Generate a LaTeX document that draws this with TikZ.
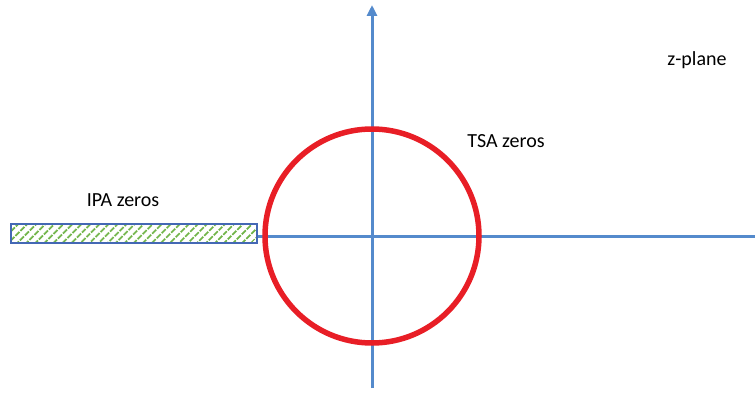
\documentclass[tikz,border=0pt]{standalone}
\usepackage{fontspec}
\setmainfont{Carlito}
\usetikzlibrary{patterns.meta,arrows.meta}
\definecolor{axisblue}{RGB}{84,138,204}
\definecolor{rectblue}{RGB}{68,104,180}
\definecolor{hatchgreen}{RGB}{112,180,72}
\definecolor{circred}{RGB}{232,30,38}
\tikzset{
  axis/.style={draw=axisblue, line width=3pt},
  lbl/.style={font=\fontsize{20}{24}\selectfont, inner sep=0pt},
}
\begin{document}
\begin{tikzpicture}[x=1pt,y=1pt]
\useasboundingbox (0,0) rectangle (755,392);
\coordinate (O) at (372,156);
\coordinate (ytop) at (372,387);
\coordinate (ybot) at (372,4);
\coordinate (xright) at (755,156);
\node[draw=rectblue, line width=2pt, pattern={Lines[angle=45,distance=6.5pt,line width=2.2pt]}, pattern color=hatchgreen, minimum width=246pt, minimum height=19pt, inner sep=0pt, anchor=east] (ipa) at (258,158.5) {};
\draw[axis] (ipa.east |- O) -- (xright);
\draw[axis, -{Triangle[length=11pt,width=10pt]}] (ybot) -- (ytop);
\draw[draw=circred, line width=5.5pt] (O) circle[radius=107];
\node[lbl] (ipalbl) at (123,192) {IPA zeros};
\node[lbl] (tsalbl) at (506,251) {TSA zeros};
\node[lbl] (zpl) at (697,332) {z-plane};
\end{tikzpicture}
\end{document}
